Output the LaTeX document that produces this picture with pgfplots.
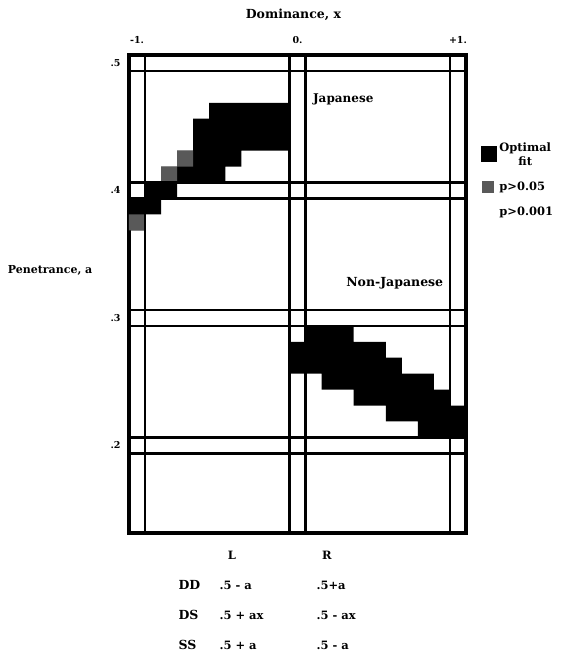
\documentclass[border=0pt]{standalone}
\usepackage{fontspec}
\setmainfont{DejaVu Serif}
\usepackage{pgfplots}
\pgfplotsset{compat=1.18}
\begin{document}
\begin{tikzpicture}[font=\bfseries]
\useasboundingbox (-129pt,-126pt) rectangle (443pt,533pt);
\begin{axis}[
  at={(0pt,0pt)}, anchor=south west,
  scale only axis, width=337pt, height=478pt,
  xmin=-1.05, xmax=1.05, ymin=0.13125, ymax=0.50625,
  axis line style={line width=4.5pt},
  xtick={-1,0,1}, xticklabels={-1.,0.,+1.},
  ytick={0.2,0.3,0.4,0.5}, yticklabels={.2,.3,.4,.5},
  xticklabel pos=upper,
  major tick length=0pt,
  tick label style={font=\bfseries\fontsize{9.5}{10}\selectfont},
  xticklabel style={yshift=8pt},
  yticklabel style={xshift=-5pt},
  xlabel={Dominance, x},
  xlabel style={at={(axis description cs:0.488,1.084)}, anchor=center, font=\bfseries\fontsize{12.5}{14}\selectfont},
  ylabel={Penetrance, a},
  ylabel style={rotate=-90, at={(axis description cs:-0.370,0.55)}, anchor=west, font=\bfseries\fontsize{11}{13}\selectfont},
  legend style={at={(axis description cs:1.045,0.822)}, anchor=north west, draw=none, fill=none,
    row sep=11pt, inner sep=0pt, font=\bfseries\fontsize{11.5}{13}\selectfont},
  legend cell align=left,
]
\addlegendimage{draw=none, legend image code/.code={\fill[black] (0pt,-8pt) rectangle (16pt,8pt);}}
\addlegendentry{\shortstack{Optimal\\fit}}
\addlegendimage{draw=none, legend image code/.code={\fill[black!65] (1pt,-6pt) rectangle (13pt,6pt);}}
\addlegendentry{p>0.05}
\addlegendimage{draw=none, fill=none, legend image code/.code={\path[draw=none, fill=none] (0pt,-6pt) rectangle (16pt,6pt);}}
\addlegendentry{p>0.001}

% Japanese optimal-fit region
\addplot[fill=black, draw=none, forget plot] coordinates {
 (-0.55,0.46875) (-0.05,0.46875) (-0.05,0.43125) (-0.35,0.43125) (-0.35,0.41875)
 (-0.45,0.41875) (-0.45,0.40625) (-0.75,0.40625) (-0.75,0.39375) (-0.85,0.39375)
 (-0.85,0.38125) (-0.95,0.38125) (-0.95,0.36875) (-1.05,0.36875) (-1.05,0.39375)
 (-0.95,0.39375) (-0.95,0.40625) (-0.85,0.40625) (-0.85,0.41875) (-0.75,0.41875)
 (-0.75,0.43125) (-0.65,0.43125) (-0.65,0.45625) (-0.55,0.45625) (-0.55,0.46875)};
% Non-Japanese optimal-fit region
\addplot[fill=black, draw=none, forget plot] coordinates {
 (0.05,0.29375) (0.35,0.29375) (0.35,0.28125) (0.55,0.28125) (0.55,0.26875)
 (0.65,0.26875) (0.65,0.25625) (0.85,0.25625) (0.85,0.24375) (0.95,0.24375)
 (0.95,0.23125) (1.05,0.23125) (1.05,0.20625) (0.75,0.20625) (0.75,0.21875)
 (0.55,0.21875) (0.55,0.23125) (0.35,0.23125) (0.35,0.24375) (0.15,0.24375)
 (0.15,0.25625) (-0.05,0.25625) (-0.05,0.28125) (0.05,0.28125) (0.05,0.29375)};
% p>0.05 cells
\addplot[fill=black!65, draw=none, forget plot] coordinates {(-0.75,0.41875) (-0.65,0.41875) (-0.65,0.43125) (-0.75,0.43125) (-0.75,0.41875)};
\addplot[fill=black!65, draw=none, forget plot] coordinates {(-0.85,0.40625) (-0.75,0.40625) (-0.75,0.41875) (-0.85,0.41875) (-0.85,0.40625)};
\addplot[fill=black!65, draw=none, forget plot] coordinates {(-1.05,0.36875) (-0.95,0.36875) (-0.95,0.38125) (-1.05,0.38125) (-1.05,0.36875)};

% grid lines
\pgfplotsinvokeforeach{-0.95,-0.05,0.05,0.95}{
  \addplot[line width=2.6pt, forget plot] coordinates {(#1,0.13125) (#1,0.50625)};
}
\pgfplotsinvokeforeach{0.49375,0.40625,0.39375,0.30625,0.29375,0.20625,0.19375}{
  \addplot[line width=2.6pt, forget plot] coordinates {(-1.05,#1) (1.05,#1)};
}
\node[anchor=west, font=\bfseries\fontsize{12}{13}\selectfont] at (axis cs:0.075,0.4715) {Japanese};
\node[anchor=east, font=\bfseries\fontsize{12.5}{13}\selectfont] at (axis cs:0.93,0.3274) {Non-Japanese};
\end{axis}
\begin{scope}[font=\bfseries\fontsize{11.5}{13}\selectfont]
\node at (103pt,-22pt) {L};
\node at (198pt,-22pt) {R};
\node[anchor=west, font=\bfseries\fontsize{12.5}{13}\selectfont] at (46pt,-52pt) {DD};
\node[anchor=west] at (87pt,-52pt) {.5 - a};
\node[anchor=west] at (184pt,-52pt) {.5+a};
\node[anchor=west, font=\bfseries\fontsize{12.5}{13}\selectfont] at (46pt,-82pt) {DS};
\node[anchor=west] at (87pt,-82pt) {.5 + ax};
\node[anchor=west] at (184pt,-82pt) {.5 - ax};
\node[anchor=west, font=\bfseries\fontsize{12.5}{13}\selectfont] at (46pt,-112pt) {SS};
\node[anchor=west] at (87pt,-112pt) {.5 + a};
\node[anchor=west] at (184pt,-112pt) {.5 - a};
\end{scope}
\end{tikzpicture}
\end{document}
